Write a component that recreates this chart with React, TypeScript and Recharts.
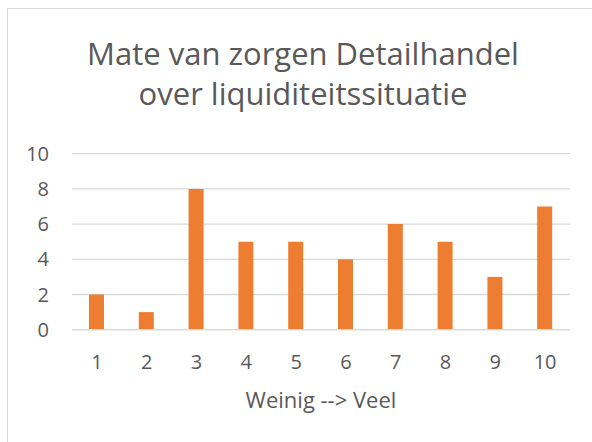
import { BarChart, Bar, XAxis, YAxis, CartesianGrid } from 'recharts';

const categories = ['1', '2', '3', '4', '5', '6', '7', '8', '9', '10'];
const counts = [2, 1, 8, 5, 5, 4, 6, 5, 3, 7];
const yTicks = [0, 2, 4, 6, 8, 10];

const titleLines = ['Mate van zorgen Detailhandel', 'over liquiditeitssituatie'];
const xTitle = 'Weinig --> Veel';

const data = categories.map((c, i) => ({ cat: c, value: counts[i] }));

const TEXT = '#595959';
const GRID = '#D9D9D9';
const FONT = '"Open Sans", sans-serif';

export default function App() {
  return (
    <div
      style={{
        position: 'absolute',
        left: 0,
        top: 0,
        width: 592,
        height: 442,
        background: '#fff',
        fontFamily: FONT,
      }}
    >
      {/* chart border, runs off the right and bottom */}
      <div
        style={{
          position: 'absolute',
          left: 7,
          top: 8,
          width: 600,
          height: 450,
          border: `1px solid ${GRID}`,
        }}
      />
      <div
        style={{
          position: 'absolute',
          left: 7,
          width: 592,
          top: 33,
          textAlign: 'center',
          color: TEXT,
          fontSize: 31,
          lineHeight: '40px',
        }}
      >
        {titleLines.map(l => (
          <div key={l}>{l}</div>
        ))}
      </div>
      <div style={{ position: 'absolute', left: 0, top: 0 }}>
        <BarChart
          width={592}
          height={442}
          data={data}
          margin={{ top: 153.7, right: 22, left: 0, bottom: 32.3 }}
          barSize={15}
        >
          <CartesianGrid vertical={false} stroke={GRID} strokeWidth={1.3} />
          <XAxis
            dataKey="cat"
            height={80}
            axisLine={{ stroke: GRID, strokeWidth: 1.3 }}
            tickLine={false}
            tickSize={0}
            tickMargin={25}
            tick={{ fill: TEXT, fontSize: 20, fontFamily: FONT }}
            label={{
              value: xTitle,
              position: 'insideBottom',
              offset: 2,
              fill: TEXT,
              fontSize: 22,
              fontFamily: FONT,
            }}
          />
          <YAxis
            width={72}
            domain={[0, 10]}
            ticks={yTicks}
            axisLine={false}
            tickLine={false}
            tickSize={0}
            tickMargin={23}
            tick={{ fill: TEXT, fontSize: 20, fontFamily: FONT }}
          />
          <Bar dataKey="value" fill="#ED7D31" isAnimationActive={false} />
        </BarChart>
      </div>
    </div>
  );
}
